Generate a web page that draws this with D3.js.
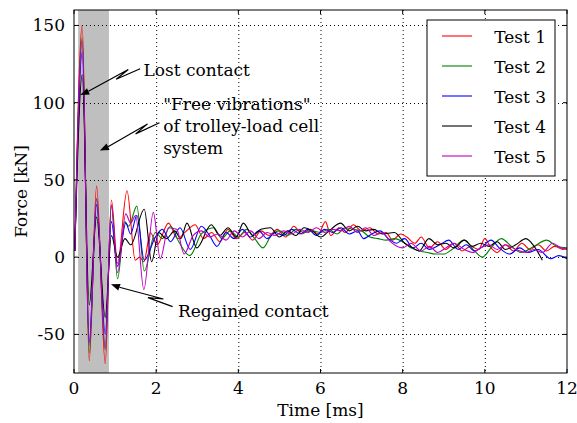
<!DOCTYPE html>
<html><head><meta charset="utf-8">
<script src="https://cdn.jsdelivr.net/npm/d3@7"></script>
<style>
body{margin:0;background:#fff;}
svg text{font-family:"DejaVu Serif",serif;}
</style></head>
<body><svg id="c" width="577" height="423"></svg>
<script>
const xTicks = [0,2,4,6,8,10,12];
const yTicks = [-50,0,50,100,150];
const seriesNames = ["Test 1","Test 2","Test 3","Test 4","Test 5"];
const seriesColors = ["#ff0000","#008000","#0000ff","#000000","#bf00bf"];
const shadeRange = [0.1, 0.85];

const test1 = [[0.02,4],[0.2,150],[0.37,-67],[0.55,46],[0.76,-69],[0.91,37],[1.06,-4],[1.29,43],[1.49,-2],[1.6,0],[1.7,-3],[1.86,16],[2.02,8],[2.3,22],[2.52,12],[2.7,16],[2.95,21],[3.15,12],[3.35,16],[3.55,10],[3.75,18],[3.95,12],[4.15,16],[4.35,11],[4.55,17],[4.75,14],[4.95,18],[5.15,13],[5.35,20],[5.55,15],[5.75,18],[5.95,15],[6.12,23],[6.25,14],[6.45,19],[6.6,16],[6.8,21],[7.0,17],[7.2,19],[7.4,15],[7.6,16],[7.75,11],[7.95,15],[8.1,13],[8.3,9],[8.45,13],[8.65,6],[8.85,10],[9.05,5],[9.25,9],[9.45,4],[9.65,7],[9.85,5],[10.0,12],[10.15,6],[10.3,3],[10.5,8],[10.7,4],[10.9,9],[11.1,5],[11.3,8],[11.5,4],[11.7,7],[11.9,5],[12.0,6]];
const test2 = [[0.02,4],[0.2,142],[0.37,-62],[0.55,38],[0.76,-60],[0.91,33],[1.06,-14],[1.24,23],[1.33,20],[1.53,33],[1.71,-9],[1.98,16],[2.15,12],[2.35,20],[2.55,10],[2.82,1],[3.1,15],[3.4,19],[3.6,12],[3.8,17],[4.0,13],[4.2,18],[4.4,12],[4.6,6],[4.8,14],[5.0,17],[5.2,14],[5.4,18],[5.6,16],[5.8,17],[6.0,16],[6.2,18],[6.4,15],[6.6,19],[6.8,18],[7.0,17],[7.2,13],[7.4,12],[7.6,11],[7.8,12],[8.0,10],[8.2,6],[8.4,4],[8.6,3],[8.8,2],[9.0,2],[9.2,5],[9.5,11],[9.75,4],[9.94,0],[10.15,6],[10.4,12],[10.65,7],[10.88,3],[11.2,7],[11.5,11],[11.75,7],[12.0,6]];
const test3 = [[0.02,4],[0.2,133],[0.37,-55],[0.55,34],[0.76,-50],[0.91,23],[1.06,-6],[1.26,22],[1.38,15],[1.53,27],[1.71,-2],[1.98,13],[2.15,18],[2.35,10],[2.58,19],[2.83,5],[3.1,20],[3.3,14],[3.48,7],[3.7,16],[3.9,12],[4.1,18],[4.3,13],[4.5,17],[4.7,12],[4.9,16],[5.1,14],[5.3,18],[5.5,15],[5.7,18],[5.9,14],[6.1,18],[6.3,16],[6.5,19],[6.7,15],[6.9,17],[7.05,12],[7.25,15],[7.45,17],[7.65,12],[7.85,9],[8.05,12],[8.25,6],[8.45,9],[8.65,5],[8.9,8],[9.12,11],[9.35,5],[9.55,8],[9.75,4],[9.95,7],[10.15,11],[10.35,6],[10.6,2],[10.85,6],[11.05,3],[11.3,5],[11.6,-1],[11.8,1],[12.0,-1]];
const test4 = [[0.02,4],[0.2,118],[0.37,-31],[0.55,26],[0.76,-39],[0.91,14],[1.06,0],[1.24,12],[1.38,8],[1.71,31],[1.89,-3],[2.06,16],[2.25,12],[2.45,17],[2.6,12],[2.75,22],[2.99,6],[3.34,21],[3.55,14],[3.75,19],[3.95,13],[4.12,22],[4.35,14],[4.55,18],[4.78,19],[5.0,13],[5.2,17],[5.4,14],[5.6,19],[5.8,17],[6.0,13],[6.25,18],[6.49,22],[6.7,17],[6.9,20],[7.1,17],[7.3,18],[7.5,15],[7.8,16],[8.05,9],[8.25,6],[8.4,4],[8.64,12],[8.85,8],[9.05,9],[9.25,6],[9.5,11],[9.7,7],[9.9,9],[10.1,7],[10.3,10],[10.5,5],[10.75,8],[11.0,12],[11.2,7],[11.4,-2]];
const test5 = [[0.02,4],[0.2,140],[0.37,-57],[0.55,38],[0.76,-59],[0.91,34],[1.06,-10],[1.26,28],[1.38,22],[1.5,27],[1.7,-21],[1.93,29],[2.1,-1],[2.3,19],[2.5,18],[2.68,2],[2.9,14],[3.1,17],[3.3,13],[3.5,15],[3.7,11],[3.9,17],[4.1,13],[4.3,17],[4.5,12],[4.7,16],[4.9,14],[5.1,17],[5.3,15],[5.5,18],[5.7,16],[5.9,19],[6.1,16],[6.3,18],[6.5,17],[6.7,20],[6.9,16],[7.1,19],[7.3,14],[7.5,16],[7.7,10],[8.0,6],[8.2,9],[8.45,4],[8.65,7],[8.85,3],[9.05,6],[9.25,9],[9.5,5],[9.7,3],[9.9,6],[10.1,8],[10.3,5],[10.5,8],[10.75,5],[11.0,3],[11.2,5],[11.4,3],[11.65,9],[11.85,6],[12.0,5]];
const allSeries = [test1,test2,test3,test4,test5];

// annotations: [text lines, text x,y (data), arrow start (data), arrow end (data)]
const annotations = [
  {lines:["Lost contact"], tx:1.69, ty:117, sx:1.61, sy:122, ex:0.15, ey:105},
  {lines:["\"Free vibrations\"","of trolley-load cell","system"], tx:2.17, ty:95, sx:2.08, sy:87, ex:0.63, ey:69},
  {lines:["Regained contact"], tx:2.53, ty:-38.5, sx:2.4, sy:-32, ex:0.9, ey:-17.5}
];

const svg = d3.select("#c");
const L=74, R=567, T=10, B=373;
const x = d3.scaleLinear().domain([0,12]).range([L,R]);
const y = d3.scaleLinear().domain([-75,160]).range([B,T]);

// shade
svg.append("rect").attr("x",x(shadeRange[0])).attr("y",T).attr("width",x(shadeRange[1])-x(shadeRange[0])).attr("height",B-T).attr("fill","#bfbfbf");

// grid
const g = svg.append("g");
xTicks.forEach(t=>{ if(t>0&&t<12) g.append("line").attr("x1",x(t)+0.5).attr("x2",x(t)+0.5).attr("y1",T).attr("y2",B).attr("stroke","#000").attr("stroke-width",1).attr("stroke-dasharray","1,3");});
yTicks.forEach(t=>{ g.append("line").attr("x1",L).attr("x2",R).attr("y1",Math.round(y(t))+0.5).attr("y2",Math.round(y(t))+0.5).attr("stroke","#000").attr("stroke-width",1).attr("stroke-dasharray","1,3");});

// lines
const line = d3.line().x(d=>x(d[0])).y(d=>y(d[1])).curve(d3.curveMonotoneX);
const clip = svg.append("clipPath").attr("id","pc").append("rect").attr("x",L).attr("y",T).attr("width",R-L).attr("height",B-T);
const lg = svg.append("g").attr("clip-path","url(#pc)");
allSeries.forEach((s,i)=>{
  lg.append("path").attr("d",line(s)).attr("fill","none").attr("stroke",seriesColors[i]).attr("stroke-width",1.1);
});

// axes frame and ticks
const ax = svg.append("g");
ax.append("rect").attr("x",L).attr("y",T).attr("width",R-L).attr("height",B-T).attr("fill","none").attr("stroke","#000").attr("stroke-width",1);
xTicks.forEach(t=>{
  ax.append("line").attr("x1",x(t)).attr("x2",x(t)).attr("y1",B).attr("y2",B-4).attr("stroke","#000");
  ax.append("line").attr("x1",x(t)).attr("x2",x(t)).attr("y1",T).attr("y2",T+4).attr("stroke","#000");
  ax.append("text").attr("x",x(t)).attr("y",B+21).attr("text-anchor","middle").attr("font-size",17).text(t);
});
yTicks.forEach(t=>{
  ax.append("line").attr("x1",L).attr("x2",L+4).attr("y1",y(t)).attr("y2",y(t)).attr("stroke","#000");
  ax.append("line").attr("x1",R).attr("x2",R-4).attr("y1",y(t)).attr("y2",y(t)).attr("stroke","#000");
  ax.append("text").attr("x",L-9).attr("y",y(t)+6).attr("text-anchor","end").attr("font-size",17).text(t);
});
svg.append("text").attr("x",(L+R)/2).attr("y",416).attr("text-anchor","middle").attr("font-size",17).text("Time [ms]");
svg.append("text").attr("transform",`translate(27,${(T+B)/2}) rotate(-90)`).attr("text-anchor","middle").attr("font-size",17).text("Force [kN]");

// annotations
annotations.forEach(a=>{
  a.lines.forEach((ln,i)=>{
    svg.append("text").attr("x",x(a.tx)).attr("y",y(a.ty)+i*22).attr("font-size",17).text(ln);
  });
  const x1=x(a.sx), y1=y(a.sy), x2=x(a.ex), y2=y(a.ey);
  const dx=x2-x1, dy=y2-y1, len=Math.hypot(dx,dy), ux=dx/len, uy=dy/len, nx=-uy, ny=ux;
  const f=0.4*len;
  const Ax=x1+ux*f, Ay=y1+uy*f;
  const Bx=x1+ux*(f-15)+nx*4, By=y1+uy*(f-15)+ny*4;
  const hx=x2-ux*9, hy=y2-uy*9;
  svg.append("path").attr("d",`M${x1},${y1}L${Ax},${Ay}L${Bx},${By}L${hx+nx*0},${hy}`).attr("fill","none").attr("stroke","#000").attr("stroke-width",1.2);
  svg.append("path").attr("d",`M${x2},${y2}L${hx+nx*3.5},${hy+ny*3.5}L${hx-nx*3.5},${hy-ny*3.5}Z`).attr("fill","#000");
});

// legend
const lgX=427, lgY=20, lgW=128, lgH=156;
const leg = svg.append("g");
leg.append("rect").attr("x",lgX).attr("y",lgY).attr("width",lgW).attr("height",lgH).attr("fill","#fff").attr("stroke","#000").attr("stroke-width",1);
seriesNames.forEach((n,i)=>{
  const yy = lgY+16+i*30;
  leg.append("line").attr("x1",442).attr("x2",472).attr("y1",yy).attr("y2",yy).attr("stroke",seriesColors[i]).attr("stroke-width",1.1);
  leg.append("text").attr("x",546).attr("y",yy+7).attr("text-anchor","end").attr("font-size",17).text(n);
});
</script></body></html>
